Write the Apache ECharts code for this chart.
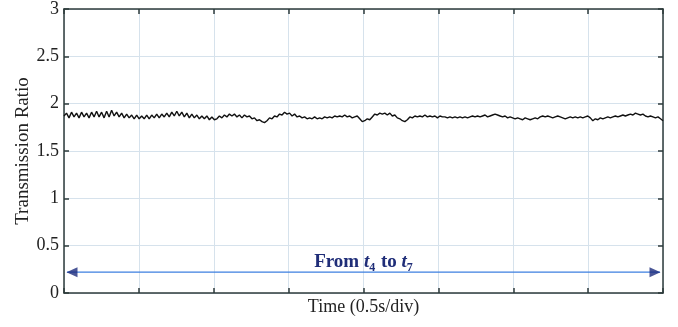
<!DOCTYPE html>
<html>
<head>
<meta charset="utf-8">
<script src="https://cdn.jsdelivr.net/npm/echarts@6/dist/echarts.min.js"></script>
<style>
  html, body { margin: 0; padding: 0; background: #fff; }
  #chart { width: 678px; height: 327px; }
</style>
</head>
<body>
<div id="chart"></div>
<script>
// transmission ratio, sampled evenly over the 8 divisions (t4 -> t7)
const ratio = [
  1.87, 1.90, 1.85, 1.91, 1.86, 1.90, 1.85, 1.91, 1.86, 1.90,
  1.85, 1.91, 1.86, 1.92, 1.86, 1.91, 1.85, 1.92, 1.86, 1.93,
  1.87, 1.91, 1.86, 1.90, 1.85, 1.89, 1.85, 1.88, 1.84, 1.88,
  1.84, 1.87, 1.84, 1.88, 1.84, 1.88, 1.85, 1.89, 1.85,
  1.89, 1.86, 1.90, 1.86, 1.91, 1.87, 1.92, 1.87, 1.91, 1.86,
  1.90, 1.85, 1.89, 1.85, 1.88, 1.84, 1.87, 1.84, 1.87, 1.83,
  1.86, 1.83, 1.84, 1.87, 1.85, 1.88, 1.86, 1.89, 1.87, 1.89,
  1.86, 1.88, 1.85, 1.88, 1.86, 1.87, 1.84, 1.85, 1.82, 1.83,
  1.81, 1.80, 1.82, 1.85, 1.84, 1.87, 1.86, 1.89, 1.88, 1.91,
  1.89, 1.90, 1.87, 1.89, 1.86, 1.87, 1.85, 1.86, 1.84, 1.85,
  1.84, 1.86, 1.84, 1.85, 1.84, 1.86, 1.85, 1.86, 1.85, 1.87,
  1.86, 1.87, 1.86, 1.88, 1.86, 1.87, 1.85, 1.86, 1.87, 1.84,
  1.81, 1.82,
  1.84, 1.83, 1.86, 1.89, 1.88, 1.90, 1.89, 1.90, 1.88, 1.90,
  1.87, 1.88, 1.85, 1.84, 1.82, 1.81, 1.83, 1.86, 1.85, 1.87,
  1.86, 1.87, 1.86, 1.88, 1.86, 1.87, 1.86, 1.87, 1.85, 1.87,
  1.86, 1.86, 1.85, 1.86, 1.85, 1.86, 1.85, 1.86, 1.85, 1.86,
  1.85, 1.86, 1.87, 1.86, 1.87, 1.86, 1.87, 1.88, 1.86, 1.87,
  1.88, 1.89, 1.88, 1.87, 1.86, 1.87, 1.85, 1.86, 1.85, 1.84,
  1.85, 1.84, 1.83, 1.85, 1.84, 1.83, 1.84, 1.85, 1.84, 1.86,
  1.87, 1.86, 1.87, 1.86, 1.85, 1.86, 1.87, 1.86, 1.85, 1.84,
  1.85, 1.86, 1.85, 1.86, 1.85, 1.86, 1.85, 1.86, 1.87, 1.85,
  1.82, 1.84, 1.83, 1.85, 1.84, 1.85, 1.86, 1.85, 1.86, 1.87,
  1.86, 1.87, 1.88, 1.87, 1.88, 1.89, 1.88, 1.90, 1.89, 1.88,
  1.89, 1.87, 1.86, 1.87, 1.86, 1.85, 1.86, 1.84, 1.82
];
const divisions = 8;
const yTicks = [0, 0.5, 1, 1.5, 2, 2.5, 3];
const arrowSpan = [0.04, 7.96];
const arrowLevel = 0.22;

const step = divisions / (ratio.length - 1);
const lineData = ratio.map((v, i) => [i * step, v]);

const serif = "Liberation Serif";
const frame = "#2e3b3b";
const gridColor = "#d6e2ec";
const tick = { show: true, inside: true, length: 5, lineStyle: { color: frame, width: 1.5 } };
const border = { show: true, onZero: false, lineStyle: { color: frame, width: 1.5 } };

const chart = echarts.init(document.getElementById("chart"));
chart.setOption({
  animation: false,
  grid: { left: 64, right: 15, top: 9, bottom: 34 },
  xAxis: [
    {
      type: "value",
      min: 0,
      max: divisions,
      interval: 1,
      name: "Time (0.5s/div)",
      nameLocation: "middle",
      nameGap: 5,
      nameTextStyle: { fontFamily: serif, fontSize: 18, color: "#222" },
      axisLine: border,
      axisTick: tick,
      axisLabel: { show: false },
      splitLine: { show: true, lineStyle: { color: gridColor, width: 1 } },
    },
    {
      type: "value",
      position: "top",
      min: 0,
      max: divisions,
      interval: 1,
      axisLine: border,
      axisTick: tick,
      axisLabel: { show: false },
      splitLine: { show: false },
    },
  ],
  yAxis: [
    {
      type: "value",
      min: yTicks[0],
      max: yTicks[yTicks.length - 1],
      interval: 0.5,
      name: "Transmission Ratio",
      nameLocation: "middle",
      nameGap: 31,
      nameMoveOverlap: false,
      nameTextStyle: { fontFamily: serif, fontSize: 19, color: "#222" },
      axisLine: border,
      axisTick: tick,
      axisLabel: {
        fontFamily: serif,
        fontSize: 18,
        color: "#222",
        margin: 5,
        formatter: (v) => String(v),
      },
      splitLine: { show: true, lineStyle: { color: gridColor, width: 1 } },
    },
    {
      type: "value",
      position: "right",
      min: yTicks[0],
      max: yTicks[yTicks.length - 1],
      interval: 0.5,
      axisLine: border,
      axisTick: tick,
      axisLabel: { show: false },
      splitLine: { show: false },
    },
  ],
  series: [
    {
      name: "ratio",
      type: "line",
      data: lineData,
      showSymbol: false,
      lineStyle: { color: "#111", width: 1.4 },
      z: 5,
    },
    {
      name: "span",
      type: "line",
      data: [[arrowSpan[0], arrowLevel], [arrowSpan[1], arrowLevel]],
      showSymbol: false,
      lineStyle: { color: "#3d7fe0", width: 1.3 },
    },
    {
      name: "heads",
      type: "scatter",
      data: [
        {
          value: [arrowSpan[0], arrowLevel],
          symbol: "path://M0,5 L11,0 L11,10 Z",
          symbolOffset: [5, 0],
        },
        {
          value: [arrowSpan[1], arrowLevel],
          symbol: "path://M11,5 L0,0 L0,10 Z",
          symbolOffset: [-5, 0],
        },
      ],
      symbolSize: [11, 10],
      itemStyle: { color: "#1b2a7c" },
      z: 6,
    },
  ],
  graphic: [
    {
      type: "text",
      x: 364,
      y: 262,
      style: {
        text: "{b|From }{i|t}{s|4}{b| to }{i|t}{s|7}",
        align: "center",
        verticalAlign: "middle",
        rich: {
          b: { fontFamily: serif, fontSize: 19, fontWeight: "bold", fill: "#1f2d78", lineHeight: 24, verticalAlign: "middle" },
          i: { fontFamily: serif, fontSize: 19, fontWeight: "bold", fontStyle: "italic", fill: "#1f2d78", lineHeight: 24, verticalAlign: "middle" },
          s: { fontFamily: serif, fontSize: 12, fontWeight: "bold", fill: "#1f2d78", lineHeight: 24, verticalAlign: "bottom", padding: [0, 1, 0, 0] },
        },
      },
    },
  ],
});
</script>
</body>
</html>
